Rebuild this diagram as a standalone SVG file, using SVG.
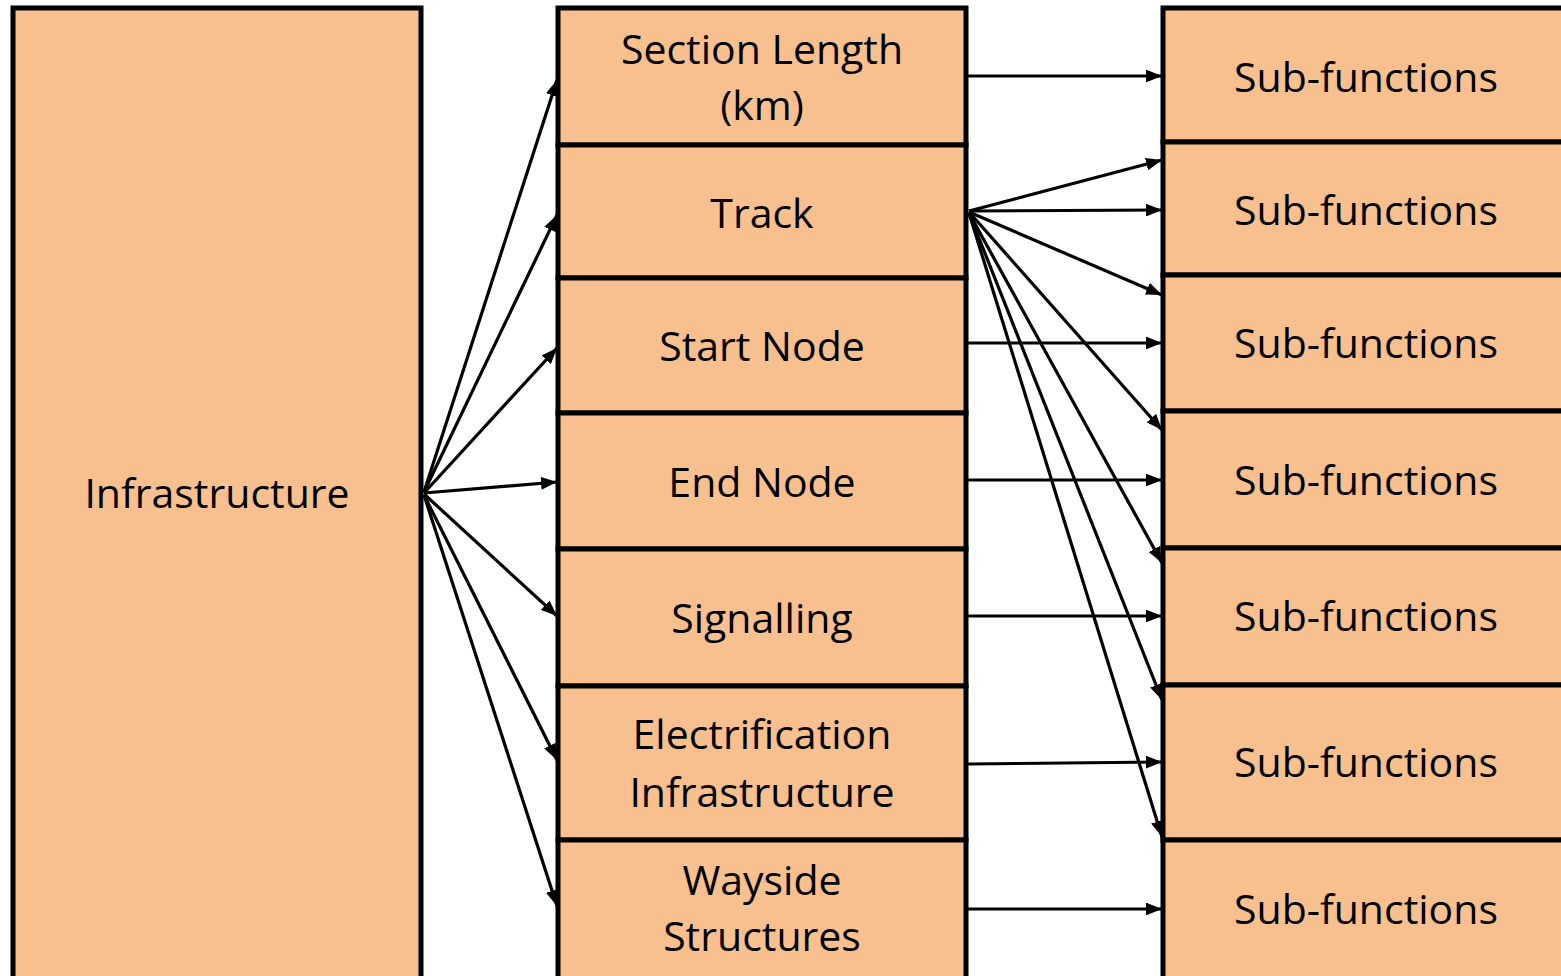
<svg xmlns="http://www.w3.org/2000/svg" width="1561" height="976" viewBox="0 0 1561 976">
  <style>
    .box { fill: #F8C08F; stroke: #000; stroke-width: 5; }
    .lbl { font-family: "Open Sans", "Noto Sans", sans-serif; font-size: 41px; fill: #000; text-anchor: middle; }
    .con { stroke: #000; stroke-width: 3.2; fill: none; marker-end: url(#arrow); }
  </style>
  <defs>
    <marker id="arrow" markerWidth="5" markerHeight="4" refX="5" refY="2" orient="auto" markerUnits="strokeWidth">
      <path d="M0,0 L5,2 L0,4 Z" fill="#000"/>
    </marker>
  </defs>

  <!-- root node -->
  <g id="infrastructure">
    <rect class="box" x="13" y="8" width="408" height="980"/>
    <text class="lbl" x="217" y="508">Infrastructure</text>
  </g>

  <!-- middle column: infrastructure elements -->
  <g id="section-length">
    <rect class="box" x="558" y="8" width="408" height="137"/>
    <text class="lbl" x="762" y="64">Section Length</text>
    <text class="lbl" x="762" y="120">(km)</text>
  </g>
  <g id="track">
    <rect class="box" x="558" y="145" width="408" height="133"/>
    <text class="lbl" x="762" y="228">Track</text>
  </g>
  <g id="start-node">
    <rect class="box" x="558" y="278" width="408" height="135"/>
    <text class="lbl" x="762" y="361">Start Node</text>
  </g>
  <g id="end-node">
    <rect class="box" x="558" y="413" width="408" height="136"/>
    <text class="lbl" x="762" y="497">End Node</text>
  </g>
  <g id="signalling">
    <rect class="box" x="558" y="549" width="408" height="137"/>
    <text class="lbl" x="762" y="633">Signalling</text>
  </g>
  <g id="electrification">
    <rect class="box" x="558" y="686" width="408" height="154"/>
    <text class="lbl" x="762" y="749">Electrification</text>
    <text class="lbl" x="762" y="807">Infrastructure</text>
  </g>
  <g id="wayside">
    <rect class="box" x="558" y="840" width="408" height="150"/>
    <text class="lbl" x="762" y="895">Wayside</text>
    <text class="lbl" x="762" y="951">Structures</text>
  </g>

  <!-- right column: sub-functions -->
  <g id="sub-1">
    <rect class="box" x="1163" y="8" width="420" height="134"/>
    <text class="lbl" x="1366" y="92">Sub-functions</text>
  </g>
  <g id="sub-2">
    <rect class="box" x="1163" y="142" width="420" height="133"/>
    <text class="lbl" x="1366" y="225">Sub-functions</text>
  </g>
  <g id="sub-3">
    <rect class="box" x="1163" y="275" width="420" height="136"/>
    <text class="lbl" x="1366" y="358">Sub-functions</text>
  </g>
  <g id="sub-4">
    <rect class="box" x="1163" y="411" width="420" height="137"/>
    <text class="lbl" x="1366" y="495">Sub-functions</text>
  </g>
  <g id="sub-5">
    <rect class="box" x="1163" y="548" width="420" height="137"/>
    <text class="lbl" x="1366" y="631">Sub-functions</text>
  </g>
  <g id="sub-6">
    <rect class="box" x="1163" y="685" width="420" height="155"/>
    <text class="lbl" x="1366" y="777">Sub-functions</text>
  </g>
  <g id="sub-7">
    <rect class="box" x="1163" y="840" width="420" height="150"/>
    <text class="lbl" x="1366" y="924">Sub-functions</text>
  </g>

  <!-- connectors -->
  <g id="connectors">
    <line class="con" x1="424" y1="492" x2="557" y2="80"/>
    <line class="con" x1="424" y1="492" x2="557" y2="215"/>
    <line class="con" x1="424" y1="493" x2="557" y2="348"/>
    <line class="con" x1="424" y1="493" x2="557" y2="482"/>
    <line class="con" x1="424" y1="494" x2="557" y2="616"/>
    <line class="con" x1="424" y1="495" x2="557" y2="760"/>
    <line class="con" x1="424" y1="495" x2="557" y2="906"/>

    <line class="con" x1="968" y1="76" x2="1162" y2="76"/>
    <line class="con" x1="969" y1="211" x2="1162" y2="160"/>
    <line class="con" x1="969" y1="211" x2="1162" y2="210"/>
    <line class="con" x1="969" y1="212" x2="1162" y2="295"/>
    <line class="con" x1="969" y1="212" x2="1162" y2="430"/>
    <line class="con" x1="969" y1="213" x2="1162" y2="563"/>
    <line class="con" x1="969" y1="213" x2="1162" y2="700"/>
    <line class="con" x1="969" y1="213" x2="1162" y2="837"/>
    <line class="con" x1="968" y1="343" x2="1162" y2="343"/>
    <line class="con" x1="968" y1="480" x2="1162" y2="480"/>
    <line class="con" x1="968" y1="616" x2="1162" y2="616"/>
    <line class="con" x1="968" y1="764" x2="1162" y2="762"/>
    <line class="con" x1="968" y1="909" x2="1162" y2="909"/>
  </g>
</svg>
